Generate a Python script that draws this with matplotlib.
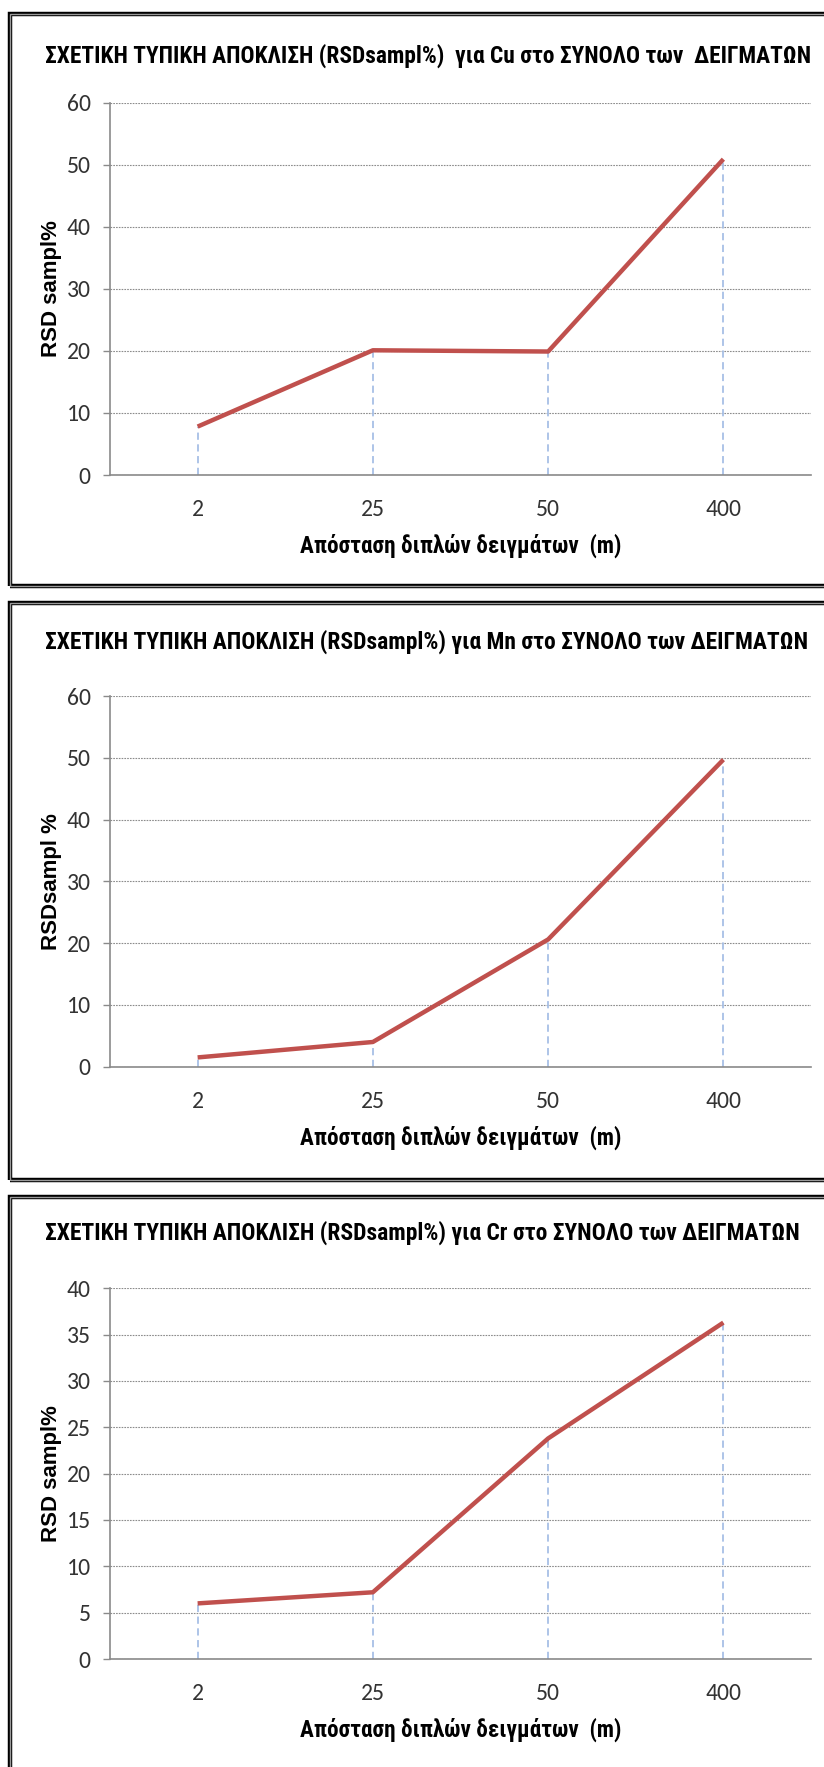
import matplotlib
matplotlib.use('Agg')
import matplotlib.pyplot as plt
from matplotlib import font_manager
from matplotlib.patches import Rectangle

# look for a condensed bold face, like the narrow font of the original
narrow, stretch = 'Liberation Sans', 'normal'
for f in font_manager.fontManager.ttflist:
    if f.name in ('Liberation Sans Narrow', 'Arial Narrow', 'Roboto Condensed'):
        narrow, stretch = f.name, 'normal'
        break
    if f.name == 'DejaVu Sans' and f.stretch in ('condensed', 'semi-condensed') and f.weight in ('bold', 700):
        narrow, stretch = 'DejaVu Sans', f.stretch
names = {f.name for f in font_manager.fontManager.ttflist}
tickfont = 'Carlito' if 'Carlito' in names else 'Lato'

# data
distances = ['2', '25', '50', '400']
cu = [7.8, 20.1, 19.9, 50.9]
mn = [1.5, 4.0, 20.6, 49.7]
cr = [6.0, 7.2, 23.8, 36.3]

titles = ['ΣΧΕΤΙΚΗ ΤΥΠΙΚΗ ΑΠΟΚΛΙΣΗ (RSDsampl%)  για Cu στο ΣΥΝΟΛΟ των  ΔΕΙΓΜΑΤΩΝ',
          'ΣΧΕΤΙΚΗ ΤΥΠΙΚΗ ΑΠΟΚΛΙΣΗ (RSDsampl%) για Mn στο ΣΥΝΟΛΟ των ΔΕΙΓΜΑΤΩΝ',
          'ΣΧΕΤΙΚΗ ΤΥΠΙΚΗ ΑΠΟΚΛΙΣΗ (RSDsampl%) για Cr στο ΣΥΝΟΛΟ των ΔΕΙΓΜΑΤΩΝ']
ylabels = ['RSD sampl%', 'RSDsampl %', 'RSD sampl%']
xlabel = 'Απόσταση διπλών δειγμάτων  (m)'
ymax = [60, 60, 40]
ystep = [10, 10, 5]
series = [cu, mn, cr]

W, H = 824, 1767
fig = plt.figure(figsize=(W / 100, H / 100), dpi=100)
fig.patch.set_facecolor('white')
renderer = fig.canvas.get_renderer()

# layout in pixels (top origin)
frames = [(14, 586), (603, 1180), (1197, 1780)]
axes_y = [(102.7, 475.0), (696.0, 1066.7), (1288.3, 1659.0)]
title_y = [56, 642, 1233]
title_w = [765, 762, 753]
ax_l, ax_r = 110, 811


def fx(x):
    return x / W


def fy(y):
    return 1 - y / H


def fit_text(x, y, s, width, **kw):
    t = fig.text(fx(x), fy(y), s, fontsize=16, **kw)
    w = t.get_window_extent(renderer).width
    t.set_fontsize(16 * width / w)
    return t


for i in range(3):
    top, bot = frames[i]
    for lw, c in [(3.2, 'black'), (1.0, '#9a9a9a')]:
        fig.add_artist(Rectangle((fx(9.5), fy(bot)), fx(830), (bot - top) / H,
                                 transform=fig.transFigure, fill=False,
                                 lw=lw, edgecolor=c, zorder=10))

    yt, yb = axes_y[i]
    ax = fig.add_axes([fx(ax_l), fy(yb), fx(ax_r - ax_l), (yb - yt) / H])
    xs = range(len(distances))
    vals = series[i]
    ax.plot(xs, vals, color='#C0504D', lw=3.2, solid_capstyle='butt', zorder=3)
    ax.vlines(xs, 0, vals, colors='#A7BFE6', lw=1.3, linestyles=(0, (4, 2.5)), zorder=2)
    ax.set_xlim(-0.5, len(distances) - 0.5)
    ax.set_ylim(0, ymax[i])
    ax.set_yticks(range(0, ymax[i] + 1, ystep[i]))
    ax.set_xticks(list(xs))
    ax.set_xticklabels(distances)
    ax.grid(axis='y', color='#8c8c8c', lw=0.8, linestyle=(0, (1.5, 1)))
    ax.set_axisbelow(True)
    for sp in ['top', 'right']:
        ax.spines[sp].set_visible(False)
    for sp in ['left', 'bottom']:
        ax.spines[sp].set_color('#8a8a8a')
        ax.spines[sp].set_linewidth(1.2)
    ax.tick_params(axis='y', length=5, width=1, color='#8a8a8a', pad=9,
                   labelsize=17, labelcolor='#333333')
    ax.tick_params(axis='x', length=0, pad=17.5, labelsize=17, labelcolor='#333333')
    for lab in ax.get_xticklabels() + ax.get_yticklabels():
        lab.set_fontfamily(tickfont)

    fit_text(45, title_y[i], titles[i], title_w[i], fontfamily=narrow,
             fontstretch=stretch, fontweight='bold', ha='left', va='center')
    fit_text((ax_l + ax_r) / 2, yb + 71, xlabel, 320, fontfamily=narrow,
             fontstretch=stretch, fontweight='bold', ha='center', va='center')
    fig.text(fx(51), fy((yt + yb) / 2), ylabels[i], rotation=90, fontsize=16,
             fontfamily='Liberation Sans', fontweight='bold', ha='center', va='center')

fig.savefig('out.png', dpi=100)
